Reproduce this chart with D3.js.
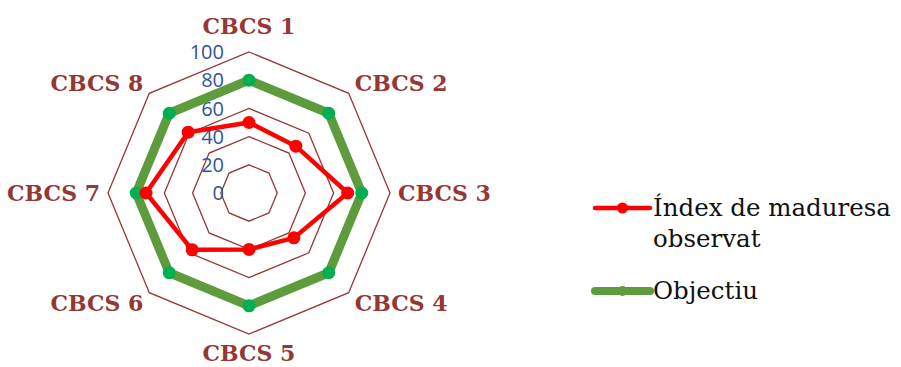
<!DOCTYPE html>
<html>
<head>
<meta charset="utf-8">
<script src="https://cdn.jsdelivr.net/npm/d3@7"></script>
<style>
  html, body { margin: 0; padding: 0; background: #fff; }
  svg { display: block; }
</style>
</head>
<body>
<svg id="chart" width="901" height="367"></svg>
<script>
// Axes of the radar and the two series
const categories = ["CBCS 1", "CBCS 2", "CBCS 3", "CBCS 4", "CBCS 5", "CBCS 6", "CBCS 7", "CBCS 8"];
const observat = [50, 47, 70, 45, 40, 57, 73, 61];
const objectiu = [80, 80, 80, 80, 80, 80, 80, 80];
const tickValues = [0, 20, 40, 60, 80, 100];
const seriesNames = ["Índex de maduresa observat", "Objectiu"];

const svg = d3.select("#chart");
const cx = 249, cy = 193, R = 141;

const r = d3.scaleLinear().domain([0, 100]).range([0, R]);
const angle = d3.scalePoint().domain(categories).range([0, 2 * Math.PI * (categories.length - 1) / categories.length]);

const pt = (cat, v) => {
  const a = angle(cat);
  return [cx + r(v) * Math.sin(a), cy - r(v) * Math.cos(a)];
};

const gridColor = "#953735";

// Octagonal grid rings (the 0 ring collapses to the centre)
const ring = d3.line().curve(d3.curveLinearClosed);
svg.append("g").selectAll("path")
  .data(tickValues.filter(t => t > 0))
  .join("path")
  .attr("d", t => ring(categories.map(c => pt(c, t))))
  .attr("fill", "none")
  .attr("stroke", gridColor)
  .attr("stroke-width", 1.3);

// Radial tick labels
svg.append("g").selectAll("text")
  .data(tickValues)
  .join("text")
  .attr("x", cx - 25)
  .attr("y", t => cy - r(t))
  .attr("dy", "0.36em")
  .attr("text-anchor", "end")
  .attr("font-family", "'Open Sans', 'Liberation Sans', sans-serif")
  .attr("font-size", 20)
  .attr("fill", "#2F5597")
  .text(t => t);

// Series lines and markers
const line = d3.line().curve(d3.curveLinearClosed);
const series = [
  { name: seriesNames[1], values: objectiu, stroke: "#5E9B3C", width: 9, marker: "#00B050" },
  { name: seriesNames[0], values: observat, stroke: "#FF0000", width: 4.5, marker: "#FF0000" }
];

series.forEach(s => {
  const pts = categories.map((c, i) => pt(c, s.values[i]));
  svg.append("path")
    .attr("d", line(pts))
    .attr("fill", "none")
    .attr("stroke", s.stroke)
    .attr("stroke-width", s.width)
    .attr("stroke-linejoin", "round");
  svg.append("g").selectAll("circle")
    .data(pts)
    .join("circle")
    .attr("cx", d => d[0])
    .attr("cy", d => d[1])
    .attr("r", 6.5)
    .attr("fill", s.marker);
});

// Category labels around the outer ring: [dx, baseline dy, anchor]
const labelOffsets = {
  "CBCS 1": [0, -18, "middle"],
  "CBCS 2": [6, -2, "start"],
  "CBCS 3": [8, 8, "start"],
  "CBCS 4": [6, 18, "start"],
  "CBCS 5": [0, 27, "middle"],
  "CBCS 6": [-6, 18, "end"],
  "CBCS 7": [-8, 8, "end"],
  "CBCS 8": [-6, -2, "end"]
};
svg.append("g").selectAll("text")
  .data(categories)
  .join("text")
  .attr("x", c => pt(c, 100)[0] + labelOffsets[c][0])
  .attr("y", c => pt(c, 100)[1] + labelOffsets[c][1])
  .attr("text-anchor", c => labelOffsets[c][2])
  .attr("font-family", "'DejaVu Serif', serif")
  .attr("font-weight", "bold")
  .attr("font-size", 22)
  .attr("fill", gridColor)
  .text(c => c);

// Legend
const legend = svg.append("g").attr("font-family", "'DejaVu Serif', serif").attr("font-size", 24.5).attr("fill", "#111");
const lx0 = 595, lx1 = 650;

legend.append("line").attr("x1", lx0).attr("x2", lx1).attr("y1", 208).attr("y2", 208)
  .attr("stroke", "#FF0000").attr("stroke-width", 4.5).attr("stroke-linecap", "round");
legend.append("circle").attr("cx", (lx0 + lx1) / 2).attr("cy", 208).attr("r", 5.5).attr("fill", "#FF0000");
const t1 = legend.append("text").attr("x", 653).attr("y", 216);
t1.append("tspan").attr("x", 653).text("Índex de maduresa");
t1.append("tspan").attr("x", 653).attr("dy", 31).text("observat");

legend.append("line").attr("x1", lx0).attr("x2", lx1).attr("y1", 291).attr("y2", 291)
  .attr("stroke", "#5E9B3C").attr("stroke-width", 8).attr("stroke-linecap", "round");
legend.append("circle").attr("cx", (lx0 + lx1) / 2).attr("cy", 291).attr("r", 5).attr("fill", "#5E9B3C");
legend.append("text").attr("x", 653).attr("y", 299).text(seriesNames[1]);
</script>
</body>
</html>
